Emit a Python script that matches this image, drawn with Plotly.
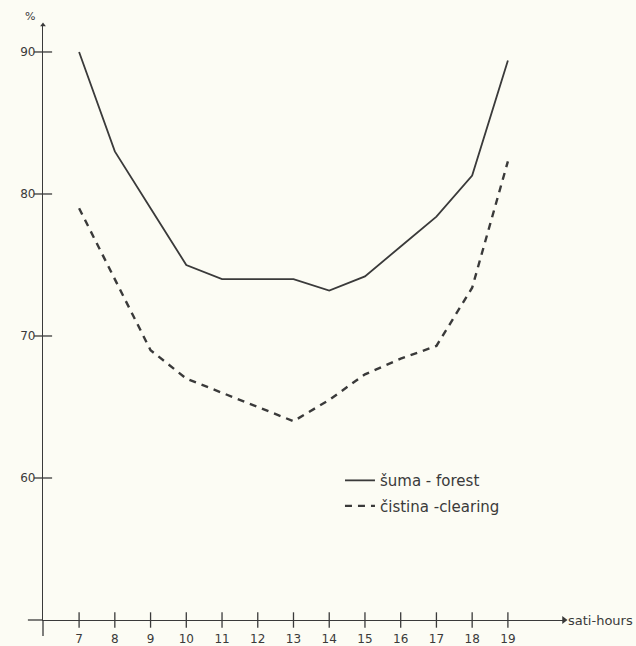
import plotly.graph_objects as go

hours = [7, 8, 9, 10, 11, 12, 13, 14, 15, 16, 17, 18, 19]
forest = [90, 83, 79, 75, 74, 74, 74, 73.2, 74.2, 76.3, 78.4, 81.3, 89.4]
clearing = [79, 74, 69, 67, 66, 65, 64, 65.5, 67.3, 68.4, 69.3, 73.4, 82.3]
y_ticks = [60, 70, 80, 90]
x_tick_labels = [str(h) for h in hours]
legend_names = ["šuma - forest", "čistina -clearing"]

INK = "#3a3a3a"
BG = "#fcfcf4"
FONT = "DejaVu Sans"

X0, X1 = 5.99, 20.57
Y0, Y1 = 50, 91.9

fig = go.Figure()
fig.add_trace(go.Scatter(x=hours, y=forest, mode="lines", name=legend_names[0],
                         legendgroup="a", line=dict(color=INK, width=1.8)))
fig.add_trace(go.Scatter(x=hours, y=clearing, mode="lines", name=legend_names[1],
                         legendgroup="b", line=dict(color=INK, width=2.4, dash="7px,6px")))
# tick crosses
fig.add_trace(go.Scatter(x=hours, y=[Y0] * len(hours), mode="markers", showlegend=False,
                         cliponaxis=False, hoverinfo="skip",
                         marker=dict(symbol="line-ns-open", size=11, color=INK,
                                     line=dict(color=INK, width=1.3))))
fig.add_trace(go.Scatter(x=[X0] * len(y_ticks), y=y_ticks, mode="markers", showlegend=False,
                         cliponaxis=False, hoverinfo="skip",
                         marker=dict(symbol="line-ew-open", size=13, color=INK,
                                     line=dict(color=INK, width=1.3))))
# arrow tips
fig.add_trace(go.Scatter(x=[X1], y=[Y0], mode="markers", showlegend=False, cliponaxis=False,
                         hoverinfo="skip", marker=dict(symbol="triangle-right", size=7, color=INK)))
fig.add_trace(go.Scatter(x=[X0], y=[Y1], mode="markers", showlegend=False, cliponaxis=False,
                         hoverinfo="skip", marker=dict(symbol="triangle-up", size=5, color=INK)))

fig.update_layout(
    width=636, height=646,
    margin=dict(l=43, r=72, t=25, b=26, autoexpand=False),
    paper_bgcolor=BG, plot_bgcolor=BG,
    font=dict(family=FONT, color=INK, size=12),
    showlegend=True,
    legend=dict(x=0.57, y=0.262, xanchor="left", yanchor="top", bgcolor="rgba(0,0,0,0)",
                font=dict(size=15, color=INK), itemwidth=30, tracegroupgap=3),
    xaxis=dict(range=[X0, X1], tickvals=hours, ticktext=x_tick_labels, ticks="",
               ticklabelstandoff=7, automargin=False,
               showgrid=False, zeroline=False, showline=True, linecolor=INK, linewidth=1.3,
               tickfont=dict(size=12)),
    yaxis=dict(range=[Y0, Y1], tickvals=y_ticks, ticks="", showgrid=False, zeroline=False,
               ticklabelstandoff=4, automargin=False,
               showline=True, linecolor=INK, linewidth=1.3, tickfont=dict(size=12)),
    shapes=[
        dict(type="line", xref="paper", yref="paper", x0=0, x1=0, y0=0, y1=-0.027,
             line=dict(color=INK, width=1.3)),
        dict(type="line", xref="paper", yref="paper", x0=-0.029, x1=0, y0=0, y1=0,
             line=dict(color=INK, width=1.3)),
    ],
    annotations=[
        dict(text="sati-hours", xref="paper", yref="paper", x=1.004, y=0, xanchor="left",
             yanchor="middle", showarrow=False, font=dict(size=13, color=INK)),
        dict(text="%", xref="paper", yref="paper", x=-0.012, y=1.0, xanchor="right",
             yanchor="bottom", showarrow=False, font=dict(size=11, color=INK)),
    ],
)

fig.write_html("out.html", config={"displayModeBar": False},
               post_script="document.body.style.margin='0';")
